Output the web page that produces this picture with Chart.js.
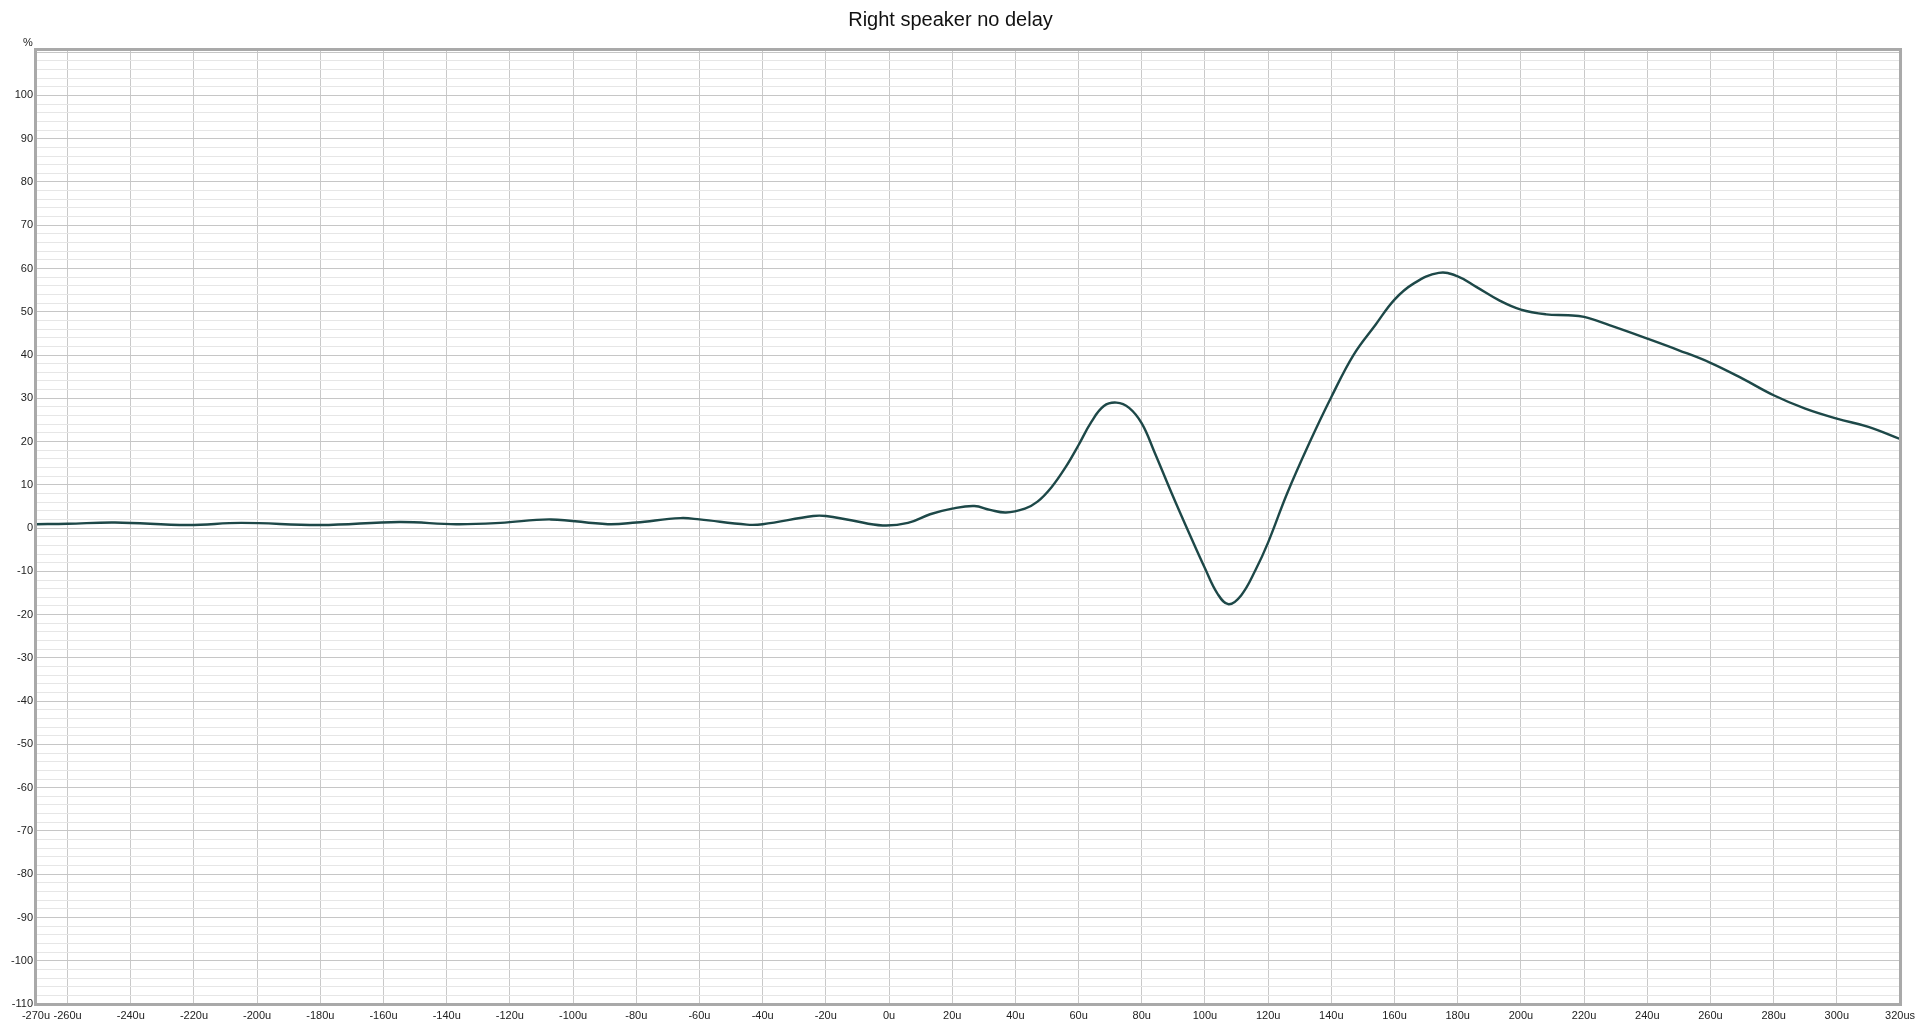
<!DOCTYPE html>
<html>
<head>
<meta charset="utf-8">
<script src="https://cdn.jsdelivr.net/npm/chart.js@4.4.1/dist/chart.umd.min.js"></script>
<style>
    html, body { margin: 0; padding: 0; background: #fff; }
    #wrap { width: 1920px; height: 1025px; position: relative; }
</style>
</head>
<body>
<div id="wrap"><canvas id="impulseChart"></canvas></div>
<script>
// time offsets (microseconds) and response (%)
const timeUs = [-270, -260, -245, -222, -205, -180, -155, -137, -123, -107,
    -89, -80, -66, -60, -45, -40, -24, -20, -12, -2,
    6, 13, 20, 27, 32, 37, 43, 47, 51.5, 56,
    60, 64, 68, 72, 76, 80, 84, 89.5, 95, 100,
    104, 107.5, 111.5, 116, 120, 126, 133, 140, 147, 154,
    160, 166, 174, 180, 186, 193, 200, 208, 215, 220,
    228, 240, 250, 260, 270, 280, 290, 300, 310, 320];
const responsePct = [0.9, 1.0, 1.3, 0.7, 1.2, 0.7, 1.4, 0.9, 1.2, 2.0,
    0.9, 1.3, 2.3, 2.0, 0.8, 0.9, 2.8, 2.8, 1.8, 0.6,
    1.2, 3.2, 4.5, 5.1, 4.2, 3.6, 4.5, 6.1, 9.5, 14.2,
    19.2, 24.5, 28.2, 29.0, 27.8, 24.2, 17.6, 8.0, -1.2, -9.3,
    -15.2, -17.6, -15.5, -9.7, -3.3, 8.0, 19.6, 30.3, 40.0, 47.0,
    52.8, 56.5, 59.0, 58.2, 55.7, 52.7, 50.5, 49.4, 49.2, 48.8,
    46.9, 43.8, 41.1, 38.2, 34.6, 30.7, 27.6, 25.3, 23.4, 20.6];

// axis ticks
const xTickValues = [-270, -260, -240, -220, -200, -180, -160, -140, -120, -100, -80, -60, -40, -20,
    0, 20, 40, 60, 80, 100, 120, 140, 160, 180, 200, 220, 240, 260, 280, 300, 320];
const xTickLabels = ['-270u', '-260u', '-240u', '-220u', '-200u', '-180u', '-160u', '-140u', '-120u', '-100u', '-80u', '-60u', '-40u', '-20u',
    '0u', '20u', '40u', '60u', '80u', '100u', '120u', '140u', '160u', '180u', '200u', '220u', '240u', '260u', '280u', '300u', '320us'];
const yLabelValues = [-110, -100, -90, -80, -70, -60, -50, -40, -30, -20, -10, 0, 10, 20, 30, 40, 50, 60, 70, 80, 90, 100];
const yMinorStep = 2;

document.addEventListener('DOMContentLoaded', function () {
    // minor horizontal grid every 2 %
    const yGridValues = [];
    for (let v = -110; v <= 110; v += yMinorStep) yGridValues.push(v);

    const frame = {
        id: 'frame',
        afterDraw(chart) {
            const { ctx, chartArea } = chart;
            ctx.save();
            ctx.strokeStyle = '#a9a9a9';
            ctx.lineWidth = 3;
            ctx.strokeRect(chartArea.left - 0.5, chartArea.top - 0.5,
                chartArea.right - chartArea.left + 1, chartArea.bottom - chartArea.top + 1);
            // unit label above the y axis
            ctx.fillStyle = '#222';
            ctx.font = '11px "Liberation Sans", Arial, sans-serif';
            ctx.textAlign = 'center';
            ctx.textBaseline = 'middle';
            ctx.fillText('%', 28, 43);
            ctx.restore();
        }
    };

    const ctx = document.getElementById('impulseChart').getContext('2d');

    new Chart(ctx, {
        type: 'line',
        data: {
            datasets: [{
                label: 'Right speaker no delay',
                data: timeUs.map((t, i) => ({ x: t, y: responsePct[i] })),
                borderColor: '#1d4848',
                borderWidth: 2.4,
                pointRadius: 0,
                tension: 0.4,
                fill: false
            }]
        },
        options: {
            responsive: true,
            maintainAspectRatio: false,
            animation: false,
            layout: { padding: { left: 0, right: 19, top: 0, bottom: 0 } },
            plugins: {
                legend: { display: false },
                tooltip: { enabled: false },
                title: {
                    display: true,
                    text: 'Right speaker no delay',
                    color: '#111',
                    font: { family: '"Liberation Sans", Arial, sans-serif', size: 20, weight: 'normal' },
                    padding: { top: 8, bottom: 18 }
                }
            },
            scales: {
                x: {
                    type: 'linear',
                    min: -270,
                    max: 320,
                    afterBuildTicks: function (scale) {
                        scale.ticks = xTickValues.map(v => ({ value: v }));
                    },
                    afterFit: function (scale) { scale.height = 21; },
                    border: { display: false },
                    grid: { color: '#c9c9c9', lineWidth: 1, drawTicks: false },
                    ticks: {
                        autoSkip: false,
                        maxRotation: 0,
                        padding: 5,
                        color: '#222',
                        font: { family: '"Liberation Sans", Arial, sans-serif', size: 11 },
                        callback: function (value) {
                            const i = xTickValues.indexOf(value);
                            return i >= 0 ? xTickLabels[i] : '';
                        }
                    }
                },
                y: {
                    type: 'linear',
                    min: -110,
                    max: 110.5,
                    afterBuildTicks: function (scale) {
                        scale.ticks = yGridValues.map(v => ({ value: v }));
                    },
                    afterFit: function (scale) { scale.width = 36; },
                    border: { display: false },
                    grid: {
                        drawTicks: false,
                        lineWidth: 1,
                        color: function (c) {
                            return c.tick && c.tick.value % 10 === 0 ? '#c6c6c6' : '#e6e6e6';
                        }
                    },
                    ticks: {
                        autoSkip: false,
                        padding: 3,
                        color: '#222',
                        font: { family: '"Liberation Sans", Arial, sans-serif', size: 11 },
                        callback: function (value) {
                            return yLabelValues.includes(value) ? String(value) : '';
                        }
                    }
                }
            }
        },
        plugins: [frame]
    });
});
</script>
</body>
</html>
